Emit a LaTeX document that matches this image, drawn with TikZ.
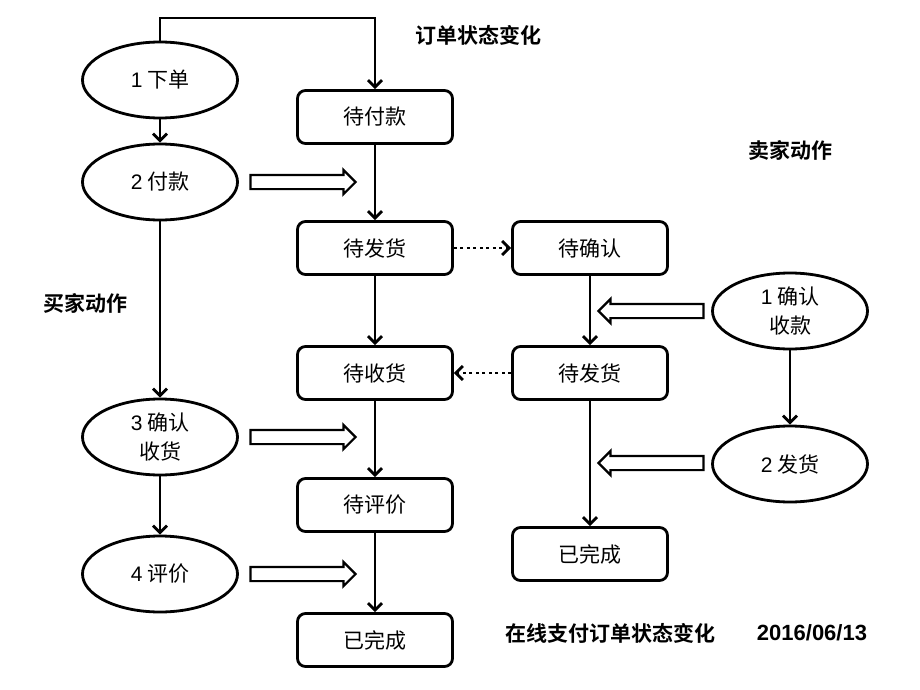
\documentclass[tikz,border=0pt]{standalone}
\usepackage{fontspec}
\setmainfont{Noto Sans CJK SC}[BoldFont={Noto Sans CJK SC Bold}]
\newfontfamily\latin{Liberation Sans}
\usetikzlibrary{shapes.geometric,shapes.arrows,arrows.meta}

\tikzset{
  act/.style={draw, ellipse, line width=2.8pt, minimum width=155, minimum height=76, inner sep=0, align=center, font=\fontsize{21}{29}\selectfont},
  state/.style={draw, rounded corners=8, line width=2.8pt, minimum width=155, minimum height=53, font=\fontsize{21}{24}\selectfont},
  arr/.style={line width=2.8pt, -{Straight Barb[length=7pt,width=14pt]}},
  dots/.style={line width=2.8pt, dash pattern=on 3pt off 3.5pt, -{Straight Barb[length=7pt,width=14pt]}},
  hollow/.style={draw, single arrow, line width=2.2pt, minimum height=105, single arrow head extend=5, inner xsep=0, inner ysep=6},
  lbl/.style={font=\bfseries\fontsize{21}{24}\selectfont}
}

\begin{document}
\begin{tikzpicture}[x=1pt, y=-1pt]
    \useasboundingbox (0,0) rectangle (920,690);
    % buyer actions
    \node[act] (xd) at (160,80) {{\latin 1} 下单};
    \node[act] (fk) at (160,182) {{\latin 2} 付款};
    \node[act] (qrsh) at (160,437) {{\latin 3} 确认\\收货};
    \node[act] (pj) at (160,574) {{\latin 4} 评价};
    % seller actions
    \node[act] (qrsk) at (790,311) {{\latin 1} 确认\\收款};
    \node[act] (fh) at (790,464) {{\latin 2} 发货};
    % order states
    \node[state] (dfk) at (375,117) {待付款};
    \node[state] (dfh) at (375,248) {待发货};
    \node[state] (dsh) at (375,373) {待收货};
    \node[state] (dpj) at (375,505) {待评价};
    \node[state] (ywc) at (375,640) {已完成};
    \node[state] (dqr) at (590,248) {待确认};
    \node[state] (dfhb) at (590,373) {待发货};
    \node[state] (ywcb) at (590,554) {已完成};
    % labels
    \node[lbl] (title) at (478,35) {订单状态变化};
    \node[lbl] (seller) at (790,150) {卖家动作};
    \node[lbl] (buyer) at (85,303) {买家动作};
    \node[lbl] (foot) at (610,633) {在线支付订单状态变化};
    \node[lbl] (date) at (812,633) {\latin\fontsize{22}{24}\selectfont 2016/06/13};
    % hollow arrows
    \node[hollow] (hfk) at (299.5,182) {};
    \node[hollow] (hqrsh) at (299.5,437) {};
    \node[hollow] (hpj) at (299.5,574) {};
    \node[hollow, shape border rotate=180] (hqrsk) at (654.5,311) {};
    \node[hollow, shape border rotate=180] (hfh) at (654.5,463) {};

    \coordinate (turn) at (375,18);
    \draw[arr] (xd.north) |- (turn) -- (dfk.north);
    \draw[arr] (xd) -- (fk);
    \draw[arr] (fk) -- (qrsh);
    \draw[arr] (qrsh) -- (pj);
    \draw[arr] (qrsk) -- (fh);
    \draw[arr] (dfk) -- (dfh);
    \draw[arr] (dfh) -- (dsh);
    \draw[arr] (dsh) -- (dpj);
    \draw[arr] (dpj) -- (ywc);
    \draw[arr] (dqr) -- (dfhb);
    \draw[arr] (dfhb) -- (ywcb);
    \draw[dots] (dfh) -- (dqr);
    \draw[dots] (dfhb) -- (dsh);
\end{tikzpicture}
\end{document}
